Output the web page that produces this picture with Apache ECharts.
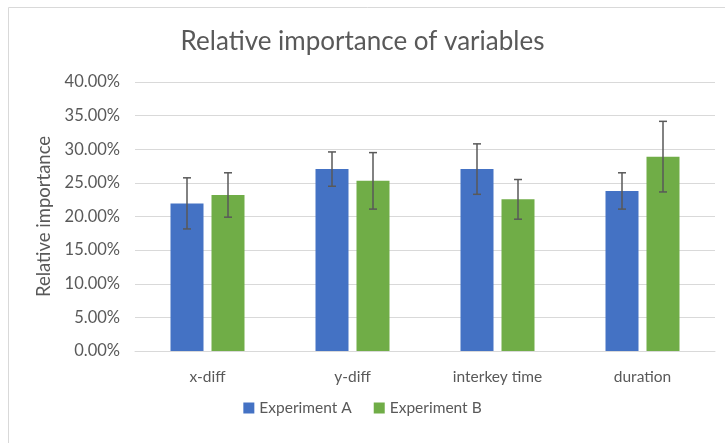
<!DOCTYPE html>
<html>
<head>
<meta charset="utf-8">
<script src="https://cdn.jsdelivr.net/npm/echarts@6/dist/echarts.min.js"></script>
<style>
  html, body { margin: 0; padding: 0; background: #fff; }
  #chart { width: 725px; height: 443px; }
</style>
</head>
<body>
<div id="chart"></div>
<script>
const categories = ['x-diff', 'y-diff', 'interkey time', 'duration'];
const seriesNames = ['Experiment A', 'Experiment B'];
const valuesA = [21.95, 27.05, 27.05, 23.8];
const valuesB = [23.2, 25.3, 22.55, 28.9];
const errA = [3.8, 2.55, 3.75, 2.7];
const errB = [3.3, 4.2, 2.95, 5.25];
const yTicks = [0, 5, 10, 15, 20, 25, 30, 35, 40];

const font = 'Lato, "Open Sans", sans-serif';
const textColor = '#595959';
const barWidth = 33;
const barGapPx = 8;

function errorSeries(values, errs, idx) {
  return {
    type: 'custom',
    name: seriesNames[idx] + ' err',
    z: 10,
    silent: true,
    data: values.map((v, i) => [i, v - errs[i], v + errs[i]]),
    renderItem: function (params, api) {
      const xi = api.value(0);
      const lo = api.coord([xi, api.value(1)]);
      const hi = api.coord([xi, api.value(2)]);
      const offset = (idx === 0 ? -1 : 1) * (barWidth + barGapPx) / 2;
      const x = lo[0] + offset;
      const cap = 4;
      const style = { stroke: '#595959', lineWidth: 1.5 };
      return {
        type: 'group',
        children: [
          { type: 'line', shape: { x1: x, y1: lo[1], x2: x, y2: hi[1] }, style: style },
          { type: 'line', shape: { x1: x - cap, y1: lo[1], x2: x + cap, y2: lo[1] }, style: style },
          { type: 'line', shape: { x1: x - cap, y1: hi[1], x2: x + cap, y2: hi[1] }, style: style }
        ]
      };
    }
  };
}

const chart = echarts.init(document.getElementById('chart'));
chart.setOption({
  animation: false,
  textStyle: { fontFamily: font },
  graphic: [{
    type: 'rect',
    shape: { x: 8.5, y: 7.5, width: 730, height: 450 },
    style: { fill: 'none', stroke: '#d9d9d9', lineWidth: 1 },
    silent: true
  }],
  title: {
    text: 'Relative importance of variables',
    left: 'center',
    top: 24,
    textStyle: { fontFamily: font, fontSize: 26, fontWeight: 'normal', color: textColor }
  },
  legend: {
    bottom: 22,
    left: 'center',
    itemWidth: 11,
    itemHeight: 11,
    itemGap: 22,
    icon: 'rect',
    data: seriesNames,
    textStyle: { fontFamily: font, fontSize: 15.5, color: textColor }
  },
  grid: { left: 135, right: 10, top: 82, bottom: 92, containLabel: false },
  xAxis: {
    type: 'category',
    data: categories,
    axisTick: { show: false },
    axisLine: { lineStyle: { color: '#d9d9d9' } },
    axisLabel: { fontFamily: font, fontSize: 15.5, color: textColor, margin: 18 }
  },
  yAxis: {
    type: 'value',
    min: 0,
    max: 40,
    interval: 5,
    name: 'Relative importance',
    nameLocation: 'middle',
    nameGap: 78,
    nameTextStyle: { fontFamily: font, fontSize: 18.5, color: textColor },
    axisLine: { show: false },
    axisTick: { show: false },
    splitLine: { lineStyle: { color: '#d9d9d9' } },
    axisLabel: {
      fontFamily: font, fontSize: 16.5, color: textColor, margin: 15,
      formatter: v => yTicks.includes(v) ? v.toFixed(2) + '%' : ''
    }
  },
  series: [
    {
      name: seriesNames[0], type: 'bar', data: valuesA,
      barWidth: barWidth, barGap: (barGapPx / barWidth * 100) + '%',
      itemStyle: { color: '#4472c4' }
    },
    {
      name: seriesNames[1], type: 'bar', data: valuesB,
      barWidth: barWidth,
      itemStyle: { color: '#70ad47' }
    },
    errorSeries(valuesA, errA, 0),
    errorSeries(valuesB, errB, 1)
  ]
});
</script>
</body>
</html>
